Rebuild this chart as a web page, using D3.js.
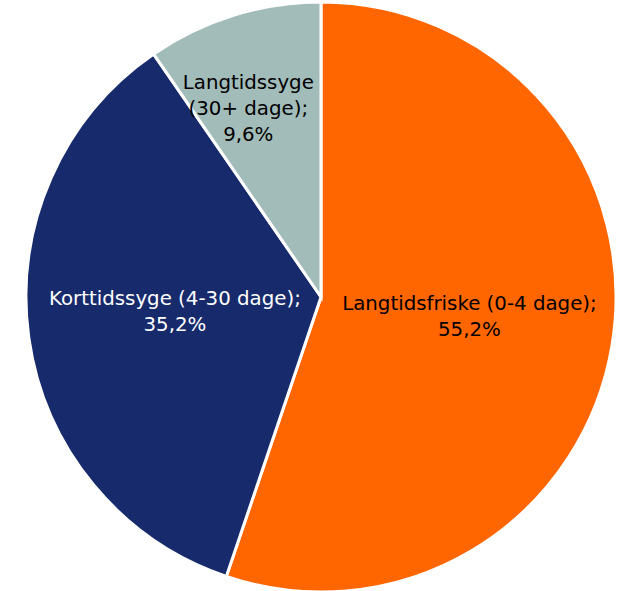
<!DOCTYPE html>
<html>
<head>
<meta charset="utf-8">
<script src="https://cdn.jsdelivr.net/npm/d3@7"></script>
<style>
  html, body { margin: 0; padding: 0; background: #fff; }
  svg text { font-family: "DejaVu Sans", Verdana, sans-serif; }
</style>
</head>
<body>
<svg id="chart" width="633" height="591"></svg>
<script>
// data
var categories = ['Langtidsfriske (0-4 dage)', 'Korttidssyge (4-30 dage)', 'Langtidssyge (30+ dage)'];
var shares = [55.2, 35.2, 9.6];
var labelLines = [
	['Langtidsfriske (0-4 dage);', '55,2%'],
	['Korttidssyge (4-30 dage);', '35,2%'],
	['Langtidssyge', '(30+ dage);', '9,6%']
];
var colors = ['#ff6600', '#172a6b', '#a2bcba'];
var textColors = ['#000000', '#ffffff', '#000000'];

var width = 633, height = 591;
var cx = 321, cy = 297, radius = 295;
var fontSize = 19.8, lineHeight = 26;

// where each label sits: fraction of radius along the slice middle, plus a nudge
var labelRadius = [0.51, 0.5, 0.67];
var labelNudge = [[0, -6], [0, -6], [-14, 0]];

var svg = d3.select('#chart')
	.attr('width', width).attr('height', height);

var g = svg.append('g')
	.attr('transform', 'translate(' + cx + ',' + cy + ')');

var pie = d3.pie().sort(null).value(function(d) { return d; });
var arcs = pie(shares);

var arc = d3.arc().innerRadius(0).outerRadius(radius);

g.selectAll('path.slice')
	.data(arcs)
	.enter().append('path')
	.attr('class', 'slice')
	.attr('d', arc)
	.attr('fill', function(d, i) { return colors[i]; })
	.attr('stroke', '#ffffff')
	.attr('stroke-width', 3)
	.attr('stroke-linejoin', 'miter');

var labels = g.selectAll('text.label')
	.data(arcs)
	.enter().append('text')
	.attr('class', 'label')
	.attr('text-anchor', 'middle')
	.attr('font-size', fontSize)
	.attr('fill', function(d, i) { return textColors[i]; })
	.attr('transform', function(d, i) {
		var r = radius * labelRadius[i];
		var c = d3.arc().innerRadius(r).outerRadius(r).centroid(d);
		return 'translate(' + (c[0] + labelNudge[i][0]) + ',' + (c[1] + labelNudge[i][1]) + ')';
	});

labels.each(function(d, i) {
	var lines = labelLines[i];
	var t = d3.select(this);
	lines.forEach(function(line, j) {
		t.append('tspan')
			.attr('x', 0)
			.attr('y', (j - (lines.length - 1) / 2) * lineHeight + fontSize * 0.36)
			.text(line);
	});
});
</script>
</body>
</html>
